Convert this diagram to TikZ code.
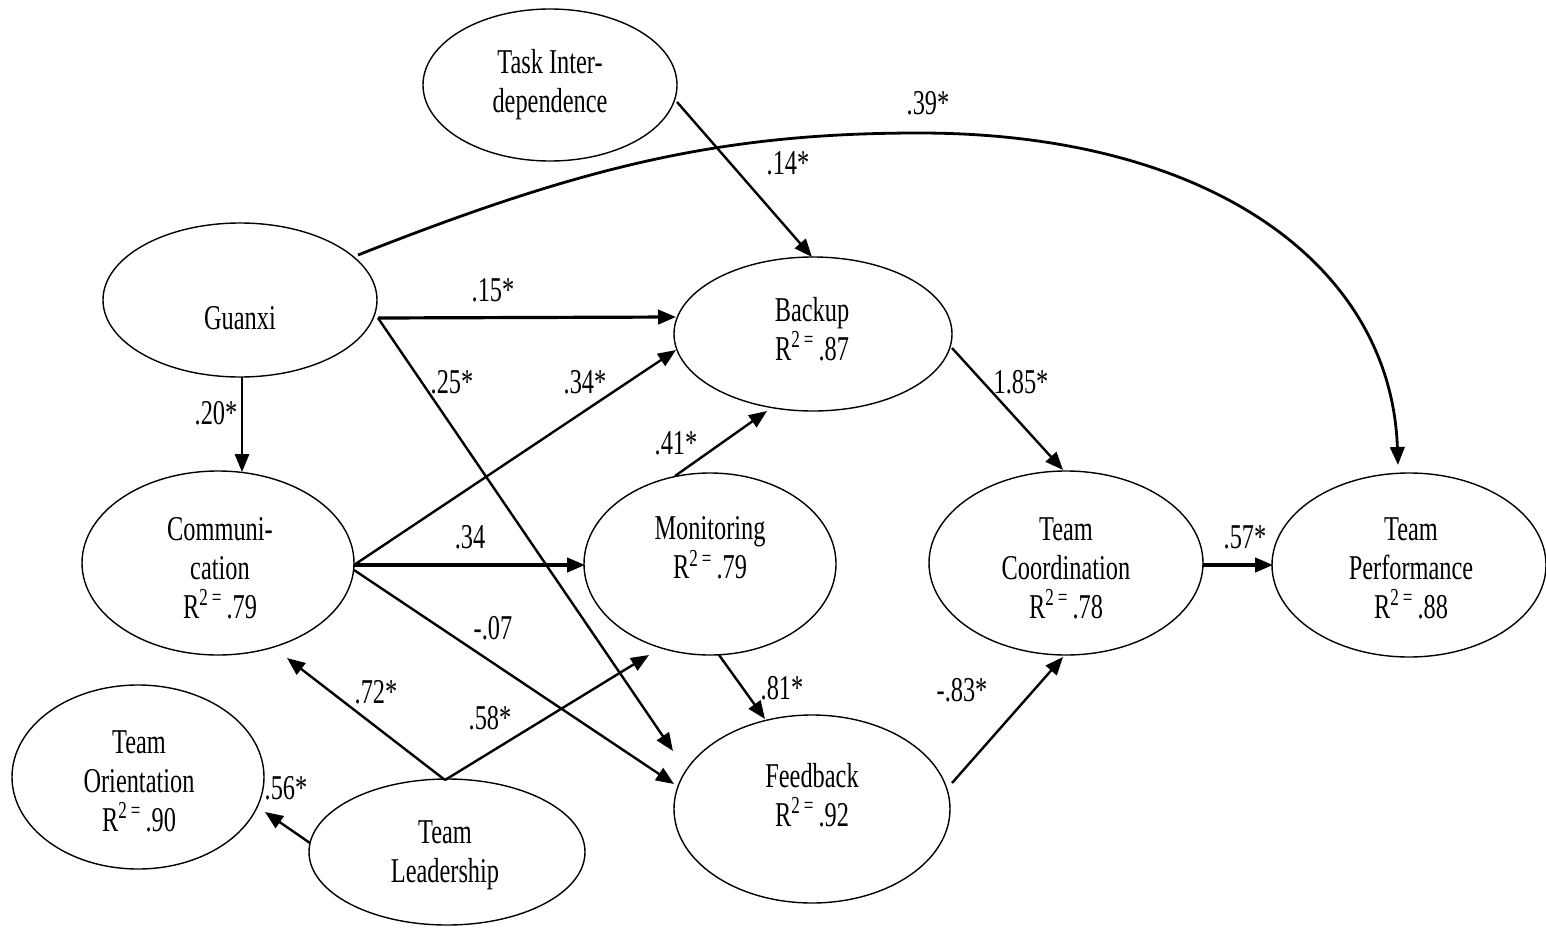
\documentclass[tikz,border=0pt]{standalone}
\usepackage{fontspec}
\setmainfont{Liberation Serif}[FakeStretch=0.7]
\usetikzlibrary{arrows.meta,shapes.geometric,calc}
\newcommand\Rsq[1]{R\textsuperscript{2\,=\,}#1}

\begin{document}
\begin{tikzpicture}[x=0.5pt,y=-0.5pt,
  latent/.style={draw,ellipse,line width=0.7pt,inner sep=0pt},
  vname/.style={align=center,font=\fontsize{17.4}{19.5}\selectfont,inner sep=0pt},
  coef/.style={font=\fontsize{17.4}{19.5}\selectfont,inner sep=0pt},
  link/.style={line width=1.2pt,-{Triangle[length=9pt,width=7.2pt]}},
  heavy/.style={link,line width=1.6pt},
  light/.style={link,line width=0.9pt}]

\useasboundingbox (0,0) rectangle (1546,937);

% latent variables (minimum width/height in pt = radii in px)
\node[latent,minimum width=127pt,minimum height=76pt] (task)   at (550,85)  {};
\node[latent,minimum width=137pt,minimum height=77pt] (guanxi) at (240,300) {};
\node[latent,minimum width=139pt,minimum height=77pt] (backup) at (813,334) {};
\node[latent,minimum width=136pt,minimum height=92pt] (comm)   at (218,563) {};
\node[latent,minimum width=126pt,minimum height=91pt] (monit)  at (710,564) {};
\node[latent,minimum width=137pt,minimum height=92pt] (coord)  at (1066,563) {};
\node[latent,minimum width=137pt,minimum height=92pt] (perf)   at (1409,565) {};
\node[latent,minimum width=126pt,minimum height=92pt] (orient) at (138,777) {};
\node[latent,minimum width=138pt,minimum height=73pt] (lead)   at (447,852) {};
\node[latent,minimum width=138pt,minimum height=94pt] (feed)   at (812,809) {};

% variable names
\node[vname] (task-t)   at (550,85)   {Task Inter-\\dependence};
\node[vname] (guanxi-t) at (240,318)  {Guanxi};
\node[vname] (backup-t) at (812,329)  {Backup\\\Rsq{.87}};
\node[vname] (comm-t)   at (220,568)  {Communi-\\cation\\\Rsq{.79}};
\node[vname] (monit-t)  at (710,548)  {Monitoring\\\Rsq{.79}};
\node[vname] (coord-t)  at (1066,568) {Team\\Coordination\\\Rsq{.78}};
\node[vname] (perf-t)   at (1411,568) {Team\\Performance\\\Rsq{.88}};
\node[vname] (orient-t) at (139,781)  {Team\\Orientation\\\Rsq{.90}};
\node[vname] (lead-t)   at (445,855)  {Team\\Leadership};
\node[vname] (feed-t)   at (812,795)  {Feedback\\\Rsq{.92}};

% paths
\draw[link]  ($(task)+(127,17)$)    -- ($(backup)+(-1,-77)$);
\draw[heavy] ($(guanxi)+(138,18)$)  -- ($(backup)+(-137,-17)$);
\draw[link]  ($(guanxi)+(138,18)$)  -- ($(feed)+(-139,-58)$);
\draw[light] ($(guanxi)+(2,77)$)    -- ($(comm)+(24,-91)$);
\draw[link]  ($(comm)+(136,2)$)     -- ($(backup)+(-137,16)$);
\draw[heavy] ($(comm)+(136,2)$)     -- ($(monit)+(-125,1)$);
\draw[link]  ($(comm)+(136,7)$)     -- ($(feed)+(-138,-25)$);
\draw[link]  ($(monit)+(-35,-88)$)  -- ($(backup)+(-46,77)$);
\draw[link]  ($(monit)+(9,91)$)     -- ($(feed)+(-47,-90)$);
\draw[link]  ($(lead)+(-2,-72)$)    -- ($(comm)+(69,95)$);
\draw[link]  ($(lead)+(-2,-72)$)    -- ($(monit)+(-61,91)$);
\draw[link]  ($(lead)+(-137,-9)$)   -- ($(orient)+(127,35)$);
\draw[link]  ($(backup)+(139,14)$)  -- ($(coord)+(-3,-93)$);
\draw[link]  ($(feed)+(140,-26)$)   -- ($(coord)+(-3,94)$);
\draw[heavy] ($(coord)+(137,2)$)    -- ($(perf)+(-136,0)$);
\coordinate (arcTop) at (919,133);
\draw[link,line width=1.4pt] ($(guanxi)+(118,-45)$)
   .. controls (581,167) and (719,133) .. (arcTop)
   .. controls (1210,133) and (1391,265) .. ($(perf)+(-11,-100)$);

% path coefficients
\node[coef] (c39) at (928,103)  {.39*};
\node[coef] (c14) at (788,163)  {.14*};
\node[coef] (c15) at (493,290)  {.15*};
\node[coef] (c25) at (452,382)  {.25*};
\node[coef] (c34a) at (585,382) {.34*};
\node[coef] (c20) at (216,413)  {.20*};
\node[coef] (c41) at (676,443)  {.41*};
\node[coef] (c185) at (1021,382) {1.85*};
\node[coef] (c34) at (470,537)  {.34};
\node[coef] (c07) at (493,628)  {-.07};
\node[coef] (c72) at (376,692)  {.72*};
\node[coef] (c58) at (490,718)  {.58*};
\node[coef] (c56) at (286,788)  {.56*};
\node[coef] (c81) at (782,688)  {.81*};
\node[coef] (c83) at (962,690)  {-.83*};
\node[coef] (c57) at (1245,537) {.57*};
\end{tikzpicture}
\end{document}
